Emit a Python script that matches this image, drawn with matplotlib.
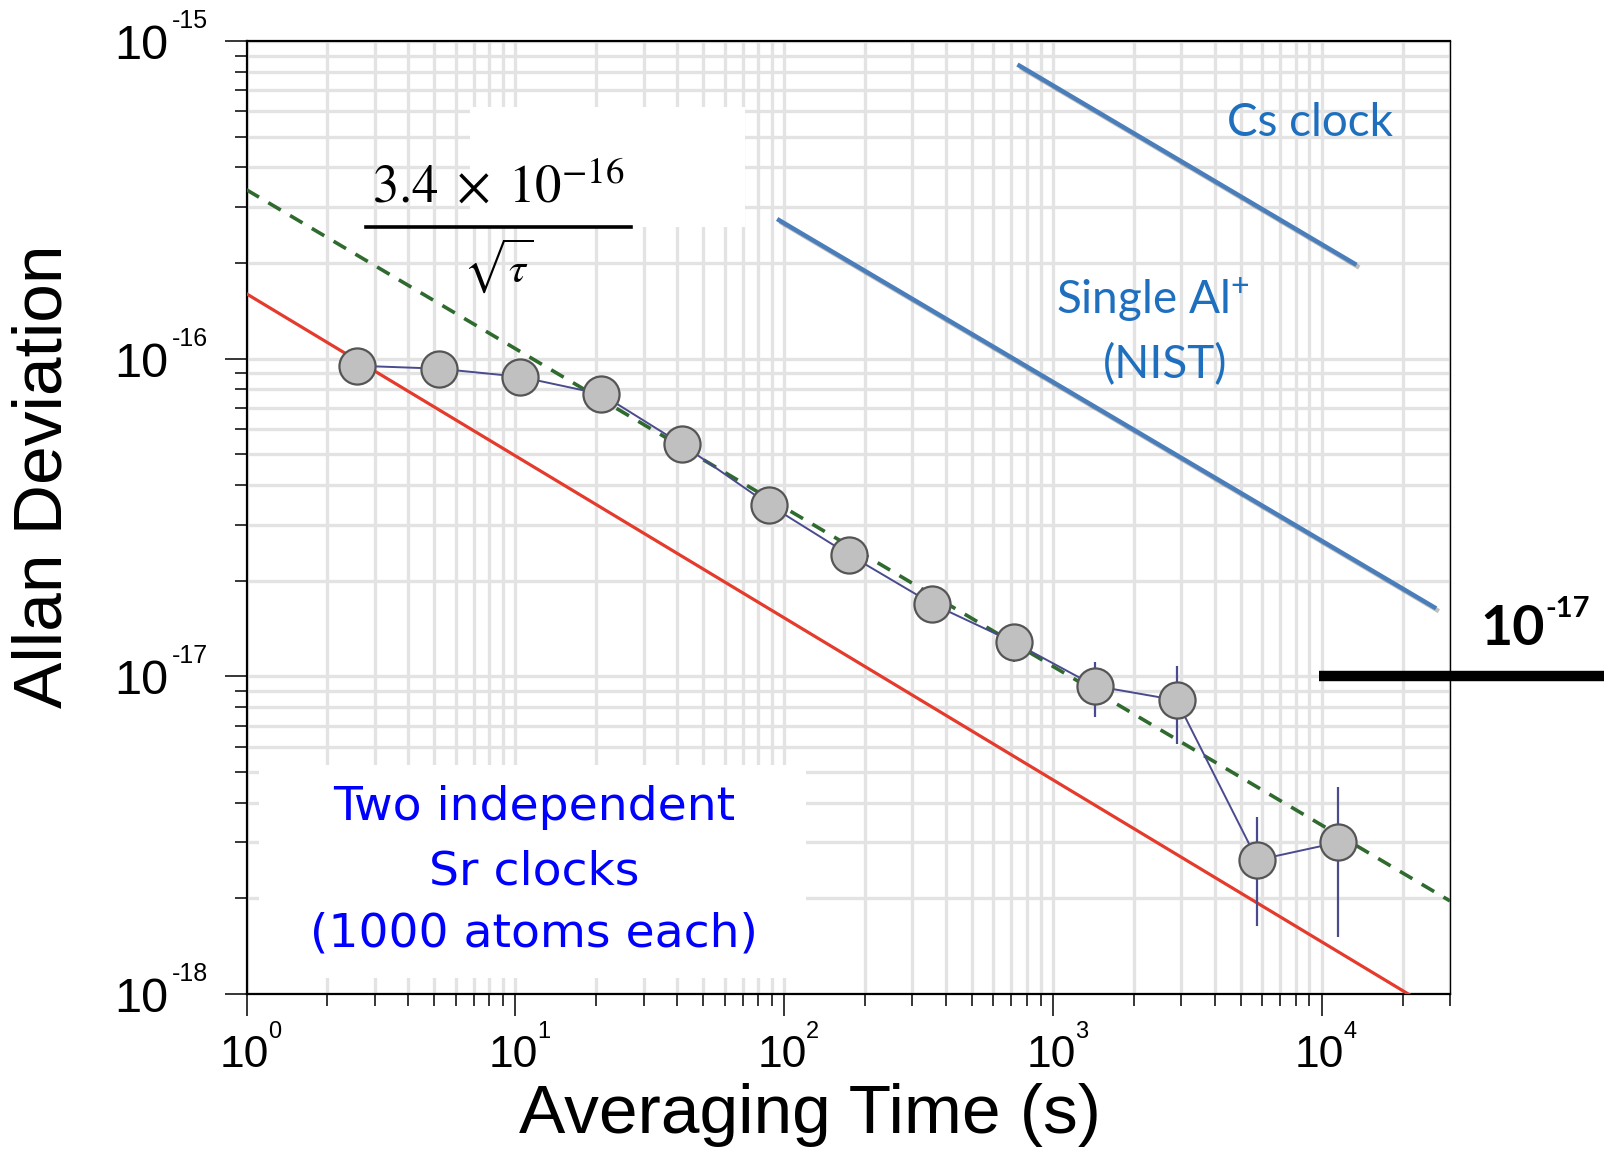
import numpy as np
import matplotlib
matplotlib.use("Agg")
from matplotlib import pyplot as plt
from matplotlib import ticker
from matplotlib import font_manager
from matplotlib.patches import Rectangle
from matplotlib.lines import Line2D
import matplotlib.patheffects as pe

plt.rcParams['font.family'] = ['Liberation Sans', 'DejaVu Sans']

# measured Allan deviation (two Sr clocks)
tau = [2.57, 5.19, 10.4, 20.9, 41.7, 87.7, 175, 356, 716, 1432, 2884, 5756, 11500]
adev = [9.5e-17, 9.3e-17, 8.77e-17, 7.73e-17, 5.37e-17, 3.47e-17, 2.41e-17,
        1.69e-17, 1.28e-17, 9.33e-18, 8.41e-18, 2.64e-18, 3.0e-18]
adev_lo = [9.5e-17, 9.3e-17, 8.77e-17, 7.73e-17, 5.37e-17, 3.47e-17, 2.41e-17,
           1.69e-17, 1.108e-17, 7.46e-18, 6.12e-18, 1.64e-18, 1.51e-18]
adev_hi = [9.5e-17, 9.3e-17, 8.77e-17, 7.73e-17, 5.37e-17, 3.47e-17, 2.41e-17,
           1.69e-17, 1.45e-17, 1.108e-17, 1.074e-17, 3.61e-18, 4.48e-18]

# 1/sqrt(tau) reference lines
fit_coef = 3.4e-16          # green dashed
qpn_coef = 1.6e-16          # red line
qpn_exp = -0.51
cs_tau = [750, 13240]
cs_coef = 2.29e-14
al_tau = [95.7, 26200]
al_coef = 2.67e-15
ref_level = 1e-17           # black marker line
ref_tau = [9750, 2e5]

x_decades = [0, 1, 2, 3, 4]
y_decades = [-15, -16, -17, -18]

# narrow font for tick labels if present
names = {f.name for f in font_manager.fontManager.ttflist}
tick_font = 'Liberation Sans Narrow' if 'Liberation Sans Narrow' in names else 'Liberation Sans'

fig = plt.figure(figsize=(16.04, 11.51), dpi=100)
ax = fig.add_axes([0.1537, 0.1364, 0.7503, 0.8280])
ax.set_xscale('log')
ax.set_yscale('log')
ax.set_xlim(1, 3e4)
ax.set_ylim(1e-18, 1e-15)

# grid
ax.set_axisbelow(True)
ax.grid(True, which='both', color='#e3e3e3', lw=2.4)
ax.xaxis.set_minor_locator(ticker.LogLocator(base=10, subs=np.arange(2, 10), numticks=20))
ax.yaxis.set_minor_locator(ticker.LogLocator(base=10, subs=np.arange(2, 10), numticks=20))
ax.xaxis.set_major_formatter(ticker.NullFormatter())
ax.yaxis.set_major_formatter(ticker.NullFormatter())
ax.xaxis.set_minor_formatter(ticker.NullFormatter())
ax.yaxis.set_minor_formatter(ticker.NullFormatter())
ax.tick_params(which='major', direction='out', length=16, width=1.1)
ax.tick_params(which='minor', direction='out', length=8.5, width=1.1)
for s in ['top', 'bottom', 'left']:
    ax.spines[s].set_linewidth(1.6)
ax.spines['right'].set_linewidth(1.0)

# tick labels: big "10" with small exponent
for d in x_decades:
    ax.annotate('10', xy=(10.0 ** d, 0), xycoords=('data', 'axes fraction'),
                xytext=(-2, -73), textcoords='offset pixels', ha='center', va='baseline',
                fontsize=32, family=tick_font, annotation_clip=False)
    ax.annotate(str(d), xy=(10.0 ** d, 0), xycoords=('data', 'axes fraction'),
                xytext=(22, -44), textcoords='offset pixels', ha='left', va='baseline',
                fontsize=17, family=tick_font, annotation_clip=False)
for d in y_decades:
    ax.annotate('10', xy=(0, 10.0 ** d), xycoords=('axes fraction', 'data'),
                xytext=(-78, -18), textcoords='offset pixels', ha='right', va='baseline',
                fontsize=35, family=tick_font, annotation_clip=False)
    ax.annotate(str(d), xy=(0, 10.0 ** d), xycoords=('axes fraction', 'data'),
                xytext=(-75, 13), textcoords='offset pixels', ha='left', va='baseline',
                fontsize=18, family=tick_font, annotation_clip=False)

# white boxes behind annotations
ax.add_patch(Rectangle((0.1857, 0.8048), 0.2285, 0.1259, transform=ax.transAxes,
                       facecolor='white', edgecolor='none', zorder=1))
ax.add_patch(Rectangle((0.0104, 0.0168), 0.4545, 0.2235, transform=ax.transAxes,
                       facecolor='white', edgecolor='none', zorder=1))

t = np.logspace(0, np.log10(3e4), 200)
ax.plot(t, fit_coef / np.sqrt(t), color='#2f6a2f', lw=2.6, ls=(0, (4, 3)), zorder=3)
ax.plot(t, qpn_coef * t ** qpn_exp, color='#e53b2c', lw=2.3, zorder=3)

shadow = [pe.SimpleLineShadow(offset=(2, -2), alpha=0.25), pe.Normal()]
cs_t = np.array(cs_tau, dtype=float)
al_t = np.array(al_tau, dtype=float)
ax.plot(cs_t, cs_coef / np.sqrt(cs_t), color='#4a7ebb', lw=3.2, path_effects=shadow, zorder=3)
ax.plot(al_t, al_coef / np.sqrt(al_t), color='#4a7ebb', lw=3.2, path_effects=shadow, zorder=3)

ax.plot(ref_tau, [ref_level, ref_level], color='black', lw=7.5, solid_capstyle='butt',
        clip_on=False, zorder=5)

adev_a = np.array(adev)
yerr = [adev_a - np.array(adev_lo), np.array(adev_hi) - adev_a]
ax.errorbar(tau, adev, yerr=yerr, fmt='-', color='#4a4a8e', lw=1.4, elinewidth=1.6,
            capsize=0, zorder=4)
ax.plot(tau, adev, 'o', ms=26, mfc='#c0c0c0', mec='#555555', mew=1.6, zorder=6)

# axis labels
fig.text(0.027, 0.586, 'Allan Deviation', rotation=90, ha='center', va='center', fontsize=50)
fig.text(0.505, 0.031, 'Averaging Time (s)', ha='center', va='center', fontsize=50)

# annotations
blue = '#1f6fbf'
fig.text(1310 / 1604, 1 - 123 / 1151, 'Cs clock', ha='center', va='center',
         fontsize=33, color=blue, family='Lato')
fig.text(1153 / 1604, 1 - 300 / 1151, r'Single Al$^{\mathregular{+}}$', ha='center', va='center',
         fontsize=33, color=blue, family='Lato')
fig.text(1165 / 1604, 1 - 365 / 1151, '(NIST)', ha='center', va='center',
         fontsize=33, color=blue, family='Lato')

for line, yy in zip(['Two independent', 'Sr clocks', '(1000 atoms each)'], [807, 872, 934]):
    fig.text(534 / 1604, 1 - yy / 1151, line, ha='center', va='center',
             fontsize=34, color='#0000ff', family='DejaVu Sans')

fig.text(498 / 1604, 1 - 188 / 1151, r'$3.4\;\times\;10^{-16}$', ha='center', va='center',
         fontsize=38, math_fontfamily='stix')
fig.text(498 / 1604, 1 - 266 / 1151, r'$\sqrt{\tau}$', ha='center', va='center',
         fontsize=31, math_fontfamily='stix')
fig.add_artist(Line2D([366 / 1604, 631 / 1604], [1 - 227 / 1151, 1 - 227 / 1151],
                      color='black', lw=2.6, transform=fig.transFigure))

fig.text(1480 / 1604, 1 - 645 / 1151, '10', ha='left', va='baseline',
         fontsize=40, fontweight='bold', family='Lato')
fig.text(1545 / 1604, 1 - 617 / 1151, '-17', ha='left', va='baseline',
         fontsize=21, fontweight='bold', family='Lato')

fig.savefig('out.png', dpi=100)
